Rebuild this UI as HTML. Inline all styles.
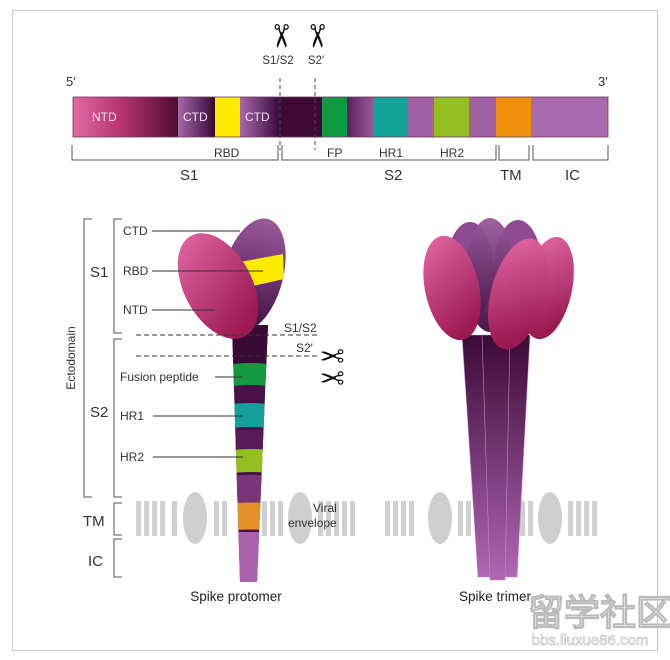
<!DOCTYPE html>
<html><head><meta charset="utf-8"><style>
html,body{margin:0;padding:0;background:#fff}
svg{display:block}
text{font-family:"Liberation Sans",sans-serif;fill:#333}
</style></head><body>
<svg width="670" height="660" viewBox="0 0 670 660" xmlns="http://www.w3.org/2000/svg">
<defs>
<linearGradient id="ntd" x1="0" x2="1"><stop offset="0" stop-color="#e06aa4"/><stop offset="0.45" stop-color="#b8346f"/><stop offset="1" stop-color="#4e0b32"/></linearGradient>
<linearGradient id="ctd" x1="0" x2="1"><stop offset="0" stop-color="#a868aa"/><stop offset="1" stop-color="#35083a"/></linearGradient>
<linearGradient id="mid" x1="0" x2="1"><stop offset="0" stop-color="#5e1e5c"/><stop offset="1" stop-color="#9c5a9c"/></linearGradient>
<linearGradient id="pink" x1="0" y1="0" x2="0.3" y2="1"><stop offset="0" stop-color="#e46aa8"/><stop offset="1" stop-color="#9c1a52"/></linearGradient>
<linearGradient id="purp" x1="0" y1="0" x2="0" y2="1"><stop offset="0" stop-color="#9a5a9a"/><stop offset="1" stop-color="#3e0c3e"/></linearGradient>
<linearGradient id="stalk" x1="0" y1="0" x2="0" y2="1"><stop offset="0" stop-color="#3a0a36"/><stop offset="1" stop-color="#b066b4"/></linearGradient>
</defs>
<rect x="12.5" y="10.5" width="645" height="640" fill="none" stroke="#c8c8c8"/>

<!-- top bar -->
<text x="66" y="86" font-size="13">5′</text>
<text x="598" y="86" font-size="13">3′</text>
<rect x="73" y="97" width="105" height="40" fill="url(#ntd)"/>
<rect x="178" y="97" width="37" height="40" fill="url(#ctd)"/>
<rect x="215" y="97" width="25" height="40" fill="#ffea00"/>
<rect x="240" y="97" width="41" height="40" fill="url(#ctd)"/>
<rect x="281" y="97" width="41" height="40" fill="#3c0a34"/>
<rect x="322" y="97" width="25" height="40" fill="#0e9a3e"/>
<rect x="347" y="97" width="27" height="40" fill="url(#mid)"/>
<rect x="374" y="97" width="34" height="40" fill="#15a49a"/>
<rect x="408" y="97" width="26" height="40" fill="#a260a4"/>
<rect x="434" y="97" width="35" height="40" fill="#93c020"/>
<rect x="469" y="97" width="27" height="40" fill="#a260a4"/>
<rect x="496" y="97" width="35" height="40" fill="#f0900a"/>
<rect x="531" y="97" width="77" height="40" fill="#aa68ae"/>
<rect x="73" y="97" width="535" height="40" fill="none" stroke="#6a3a5a" stroke-width="0.8"/>
<text x="92" y="121" font-size="12" style="fill:#f3dbe8">NTD</text>
<text x="183" y="121" font-size="12" style="fill:#f0e0f0">CTD</text>
<text x="245" y="121" font-size="12" style="fill:#f0e0f0">CTD</text>
<line x1="280" y1="78" x2="280" y2="150" stroke="#444" stroke-dasharray="4,3"/>
<line x1="315" y1="78" x2="315" y2="150" stroke="#444" stroke-dasharray="4,3"/>
<text x="0" y="0" font-size="32" text-anchor="middle" style="fill:#111" transform="translate(270 36) rotate(90)">✂</text>
<text x="0" y="0" font-size="32" text-anchor="middle" style="fill:#111" transform="translate(306 36) rotate(90)">✂</text>
<text x="278" y="64" font-size="11.5" text-anchor="middle">S1/S2</text>
<text x="316" y="64" font-size="11.5" text-anchor="middle">S2′</text>
<g stroke="#555" fill="none" stroke-width="1">
<path d="M72 145 V160 H278 V145"/>
<path d="M282 145 V160 H496 V145"/>
<path d="M499 145 V160 H529 V145"/>
<path d="M533 145 V160 H608 V145"/>
</g>
<g font-size="12"><text x="214" y="157">RBD</text><text x="327" y="157">FP</text><text x="379" y="157">HR1</text><text x="440" y="157">HR2</text></g>
<g font-size="15"><text x="180" y="180">S1</text><text x="384" y="180">S2</text><text x="500" y="180">TM</text><text x="565" y="180">IC</text></g>

<!-- protomer brackets -->
<g stroke="#555" fill="none">
<path d="M92 219 H84 V497 H92"/>
<path d="M122 219 H114 V333 H122"/>
<path d="M122 339 H114 V497 H122"/>
<path d="M122 503 H114 V535 H122"/>
<path d="M122 539 H114 V577 H122"/>
</g>
<text x="75" y="358" font-size="12" text-anchor="middle" transform="rotate(-90 75 358)">Ectodomain</text>
<g font-size="15"><text x="90" y="277">S1</text><text x="90" y="417">S2</text><text x="83" y="526">TM</text><text x="88" y="566">IC</text></g>

<!-- membranes -->
<g fill="#cfcfcf">
<rect x="136" y="501" width="5" height="35"/><rect x="144" y="501" width="5" height="35"/><rect x="152" y="501" width="5" height="35"/><rect x="160" y="501" width="5" height="35"/>
<rect x="172" y="501" width="5" height="35"/><ellipse cx="195" cy="518" rx="12" ry="26"/><rect x="214" y="501" width="5" height="35"/><rect x="222" y="501" width="5" height="35"/>
<rect x="262" y="501" width="5" height="35"/><rect x="270" y="501" width="5" height="35"/><rect x="278" y="501" width="5" height="35"/><ellipse cx="300" cy="518" rx="12" ry="26"/>
<rect x="318" y="501" width="5" height="35"/><rect x="326" y="501" width="5" height="35"/><rect x="334" y="501" width="5" height="35"/><rect x="342" y="501" width="5" height="35"/><rect x="350" y="501" width="5" height="35"/>
<rect x="385" y="501" width="5" height="35"/><rect x="393" y="501" width="5" height="35"/><rect x="401" y="501" width="5" height="35"/><rect x="409" y="501" width="5" height="35"/><ellipse cx="440" cy="518" rx="12" ry="26"/><rect x="458" y="501" width="5" height="35"/><rect x="466" y="501" width="5" height="35"/>
<ellipse cx="493" cy="518" rx="12" ry="26"/>
<rect x="520" y="501" width="5" height="35"/><rect x="528" y="501" width="5" height="35"/><ellipse cx="550" cy="518" rx="12" ry="26"/><rect x="568" y="501" width="5" height="35"/><rect x="576" y="501" width="5" height="35"/><rect x="584" y="501" width="5" height="35"/><rect x="592" y="501" width="5" height="35"/>
</g>

<!-- protomer stalk -->
<clipPath id="st"><path d="M232 325 L268 325 L257 582 L240 582 Z"/></clipPath>
<g clip-path="url(#st)">
<rect x="220" y="320" width="60" height="265" fill="#4a1048"/>
<rect x="220" y="320" width="60" height="45" fill="#3a0a36"/>
<path d="M220 366 Q250 360 280 366 V388 Q250 382 220 388Z" fill="#139a3e"/>
<path d="M220 406 Q250 400 280 406 V430 Q250 424 220 430Z" fill="#13a09a"/>
<path d="M220 430 H280 V452 H220Z" fill="#5a1a58"/>
<path d="M220 452 Q250 446 280 452 V475 Q250 469 220 475Z" fill="#92c020"/>
<rect x="220" y="475" width="60" height="30" fill="#7a3478"/>
<path d="M220 505 Q250 500 280 505 V532 Q250 527 220 532Z" fill="#e6902a"/>
<rect x="220" y="532" width="60" height="55" fill="#a962ab"/>
</g>
<!-- head -->
<ellipse cx="253" cy="275" rx="30" ry="58" transform="rotate(15 253 275)" fill="url(#purp)"/>
<path d="M240 262 L283 254 L284 279 L244 288Z" fill="#ffea00"/>
<ellipse cx="218" cy="286" rx="34" ry="57" transform="rotate(-28 218 286)" fill="url(#pink)"/>
<g stroke="#333" stroke-width="1"><line x1="152" y1="231" x2="240" y2="231"/><line x1="152" y1="271" x2="263" y2="271"/><line x1="152" y1="310" x2="215" y2="310"/>
<line x1="215" y1="377" x2="242" y2="377"/><line x1="153" y1="416" x2="243" y2="416"/><line x1="153" y1="457" x2="243" y2="457"/></g>
<g font-size="12"><text x="123" y="235">CTD</text><text x="123" y="275">RBD</text><text x="123" y="314">NTD</text><text x="120" y="381">Fusion peptide</text><text x="120" y="420">HR1</text><text x="120" y="461">HR2</text>
<text x="284" y="332">S1/S2</text><text x="296" y="352">S2′</text><text x="313" y="512">Viral</text><text x="288" y="527">envelope</text></g>
<g stroke="#333" stroke-dasharray="5,3"><line x1="136" y1="335" x2="318" y2="335"/><line x1="136" y1="356" x2="318" y2="356"/></g>
<text x="0" y="0" font-size="30" text-anchor="middle" style="fill:#111" transform="translate(332 345) rotate(180)">✂</text>
<text x="0" y="0" font-size="30" text-anchor="middle" style="fill:#111" transform="translate(332 367) rotate(180)">✂</text>
<text x="236" y="601" font-size="13.5" text-anchor="middle" style="fill:#222">Spike protomer</text>

<!-- trimer -->
<g stroke="#c48ac4" stroke-width="0.6">
<path d="M462 335 L487 335 L492 577 L478 577Z" fill="url(#stalk)"/>
<path d="M505 335 L530 335 L517 577 L503 577Z" fill="url(#stalk)"/>
<path d="M482 335 L510 335 L505 580 L490 580Z" fill="url(#stalk)"/>
</g>
<ellipse cx="470" cy="270" rx="24" ry="48" fill="#8e4a8e"/>
<ellipse cx="518" cy="268" rx="24" ry="48" fill="#8e4a8e"/>
<ellipse cx="548" cy="288" rx="24" ry="52" transform="rotate(12 548 288)" fill="url(#pink)"/>
<ellipse cx="490" cy="275" rx="25" ry="57" fill="url(#purp)" opacity="0.95"/>
<ellipse cx="452" cy="288" rx="27" ry="53" transform="rotate(-12 452 288)" fill="url(#pink)"/>
<ellipse cx="518" cy="294" rx="27" ry="57" transform="rotate(15 518 294)" fill="url(#pink)"/>
<text x="495" y="601" font-size="13.5" text-anchor="middle" style="fill:#222">Spike trimer</text>

<!-- watermark -->
<text x="600" y="625" font-size="36" text-anchor="middle" style="fill:#f4f4f4;stroke:#bbb;stroke-width:1;font-weight:bold" font-family="Noto Sans CJK SC">留学社区</text>
<text x="590" y="645" font-size="15" text-anchor="middle" style="fill:#f4f4f4;stroke:#bbb;stroke-width:0.6">bbs.liuxue86.com</text>
</svg>
</body></html>
